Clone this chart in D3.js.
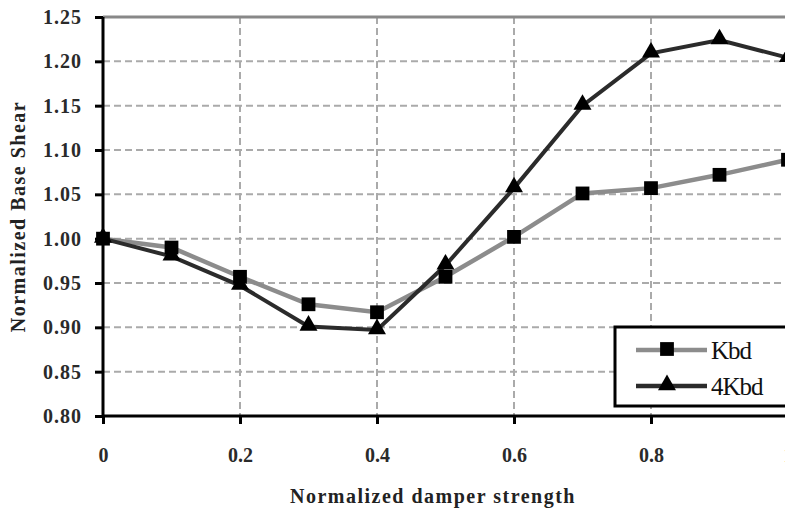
<html>
<head>
<script src="https://d3js.org/d3.v7.min.js"></script>
<style>
    body { margin: 0; background: #fff; }
    svg { font-family: "Liberation Serif", "Times New Roman", serif; font-weight: bold; }
    .grid line { stroke: #aaa; stroke-width: 2; stroke-dasharray: 7 4; }
</style>
</head>
<body>
<svg id="chart" width="785" height="511"></svg>
<script>
    let xs = [0, 0.1, 0.2, 0.3, 0.4, 0.5, 0.6, 0.7, 0.8, 0.9, 1.0];
    let kbd = [1.000, 0.990, 0.957, 0.926, 0.917, 0.957, 1.002, 1.051, 1.057, 1.072, 1.089];
    let kbd4 = [1.000, 0.980, 0.947, 0.901, 0.897, 0.970, 1.057, 1.150, 1.209, 1.224, 1.204];
    let xTicks = [0, 0.2, 0.4, 0.6, 0.8, 1];
    let yTicks = [0.80, 0.85, 0.90, 0.95, 1.00, 1.05, 1.10, 1.15, 1.20, 1.25];
    let seriesNames = ['Kbd', '4Kbd'];

    let svg = d3.select('#chart');
    let margin = {top: 17, left: 103, bottom: 95},
        x0 = margin.left, x1 = 788,
        y0 = margin.top, y1 = 511 - margin.bottom;

    let x = d3.scaleLinear().domain([0, 1]).range([x0, x1]);
    let y = d3.scaleLinear().domain([0.80, 1.25]).range([y1, y0]);

    // grid
    let grid = svg.append('g').attr('class', 'grid');
    grid.selectAll('.hg')
        .data(yTicks.filter(d => d > 0.801 && d < 1.249))
      .enter().append('line')
        .attr('x1', x0).attr('x2', 785)
        .attr('y1', d => y(d)).attr('y2', d => y(d));
    grid.selectAll('.vg')
        .data(xTicks.filter(d => d > 0))
      .enter().append('line')
        .attr('x1', d => x(d)).attr('x2', d => x(d))
        .attr('y1', y0).attr('y2', y1);

    // top border
    svg.append('line')
        .attr('x1', x0).attr('x2', 785)
        .attr('y1', y0).attr('y2', y0)
        .attr('stroke', '#888').attr('stroke-width', 3);

    // axes
    let yAxis = d3.axisLeft(y).tickValues(yTicks).tickSize(8).tickPadding(13)
        .tickFormat(d3.format('.2f'));
    let gy = svg.append('g').attr('transform', 'translate(' + x0 + ',0)').call(yAxis);
    let xAxis = d3.axisBottom(x).tickValues(xTicks).tickSize(8).tickPadding(24)
        .tickFormat(d => d === 0 ? '0' : d === 1 ? '1' : d3.format('.1f')(d));
    let gx = svg.append('g').attr('transform', 'translate(0,' + y1 + ')').call(xAxis);

    [gx, gy].forEach(g => {
        g.select('.domain').attr('stroke', '#000').attr('stroke-width', 3);
        g.selectAll('.tick line').attr('stroke', '#000').attr('stroke-width', 3);
        g.selectAll('.tick text').attr('fill', '#2a2a2a')
            .style('font-size', '20px').style('font-family', '"Liberation Serif", serif')
            .style('font-weight', 'bold');
    });
    gy.selectAll('.tick text').style('letter-spacing', '1px');
    gx.select('.domain').attr('d', 'M' + x0 + ',0H785');
    gy.select('.domain').attr('d', 'M0,' + y0 + 'V' + y1);

    // lines
    let line = d3.line().x((d, i) => x(xs[i])).y(d => y(d));

    svg.append('path').datum(kbd)
        .attr('d', line).attr('fill', 'none')
        .attr('stroke', '#8c8c8c').attr('stroke-width', 4.5);
    svg.append('path').datum(kbd4)
        .attr('d', line).attr('fill', 'none')
        .attr('stroke', '#2b2b2b').attr('stroke-width', 4);

    let sq = d3.symbol().type(d3.symbolSquare).size(190);
    let tri = d3.symbol().type(d3.symbolTriangle).size(140);

    svg.selectAll('.kbdpt')
        .data(kbd)
      .enter().append('path')
        .attr('d', sq)
        .attr('transform', (d, i) => 'translate(' + x(xs[i]) + ',' + y(d) + ')')
        .attr('fill', '#000');
    svg.selectAll('.kbd4pt')
        .data(kbd4)
      .enter().append('path')
        .attr('d', tri)
        .attr('transform', (d, i) => 'translate(' + x(xs[i]) + ',' + (y(d) - 1) + ')')
        .attr('fill', '#000');

    // legend
    let lg = svg.append('g');
    lg.append('rect')
        .attr('x', 615).attr('y', 327).attr('width', 180).attr('height', 79)
        .attr('fill', '#fff').attr('stroke', '#000').attr('stroke-width', 3);
    let rows = [
        {name: seriesNames[0], yy: 350, col: '#8c8c8c', sym: sq},
        {name: seriesNames[1], yy: 386, col: '#2b2b2b', sym: tri}
    ];
    rows.forEach(r => {
        lg.append('line').attr('x1', 636).attr('x2', 707)
            .attr('y1', r.yy).attr('y2', r.yy)
            .attr('stroke', r.col).attr('stroke-width', 4.5);
        lg.append('path').attr('d', r.sym)
            .attr('transform', 'translate(667,' + (r.yy - 1) + ')').attr('fill', '#000');
        lg.append('text').attr('x', 711).attr('y', r.yy + 9)
            .style('font-size', '25px').style('font-weight', 'normal')
            .style('letter-spacing', '-1px')
            .attr('fill', '#111').text(r.name);
    });

    // titles
    svg.append('text')
        .attr('x', 433).attr('y', 503).attr('text-anchor', 'middle')
        .style('font-size', '20px').style('letter-spacing', '1.5px').attr('fill', '#222')
        .text('Normalized damper strength');
    svg.append('text')
        .attr('transform', 'translate(25,' + ((y0 + y1) / 2) + ') rotate(-90)')
        .attr('text-anchor', 'middle')
        .style('font-size', '20px').style('letter-spacing', '1.5px').attr('fill', '#222')
        .text('Normalized Base Shear');
</script>
</body>
</html>
